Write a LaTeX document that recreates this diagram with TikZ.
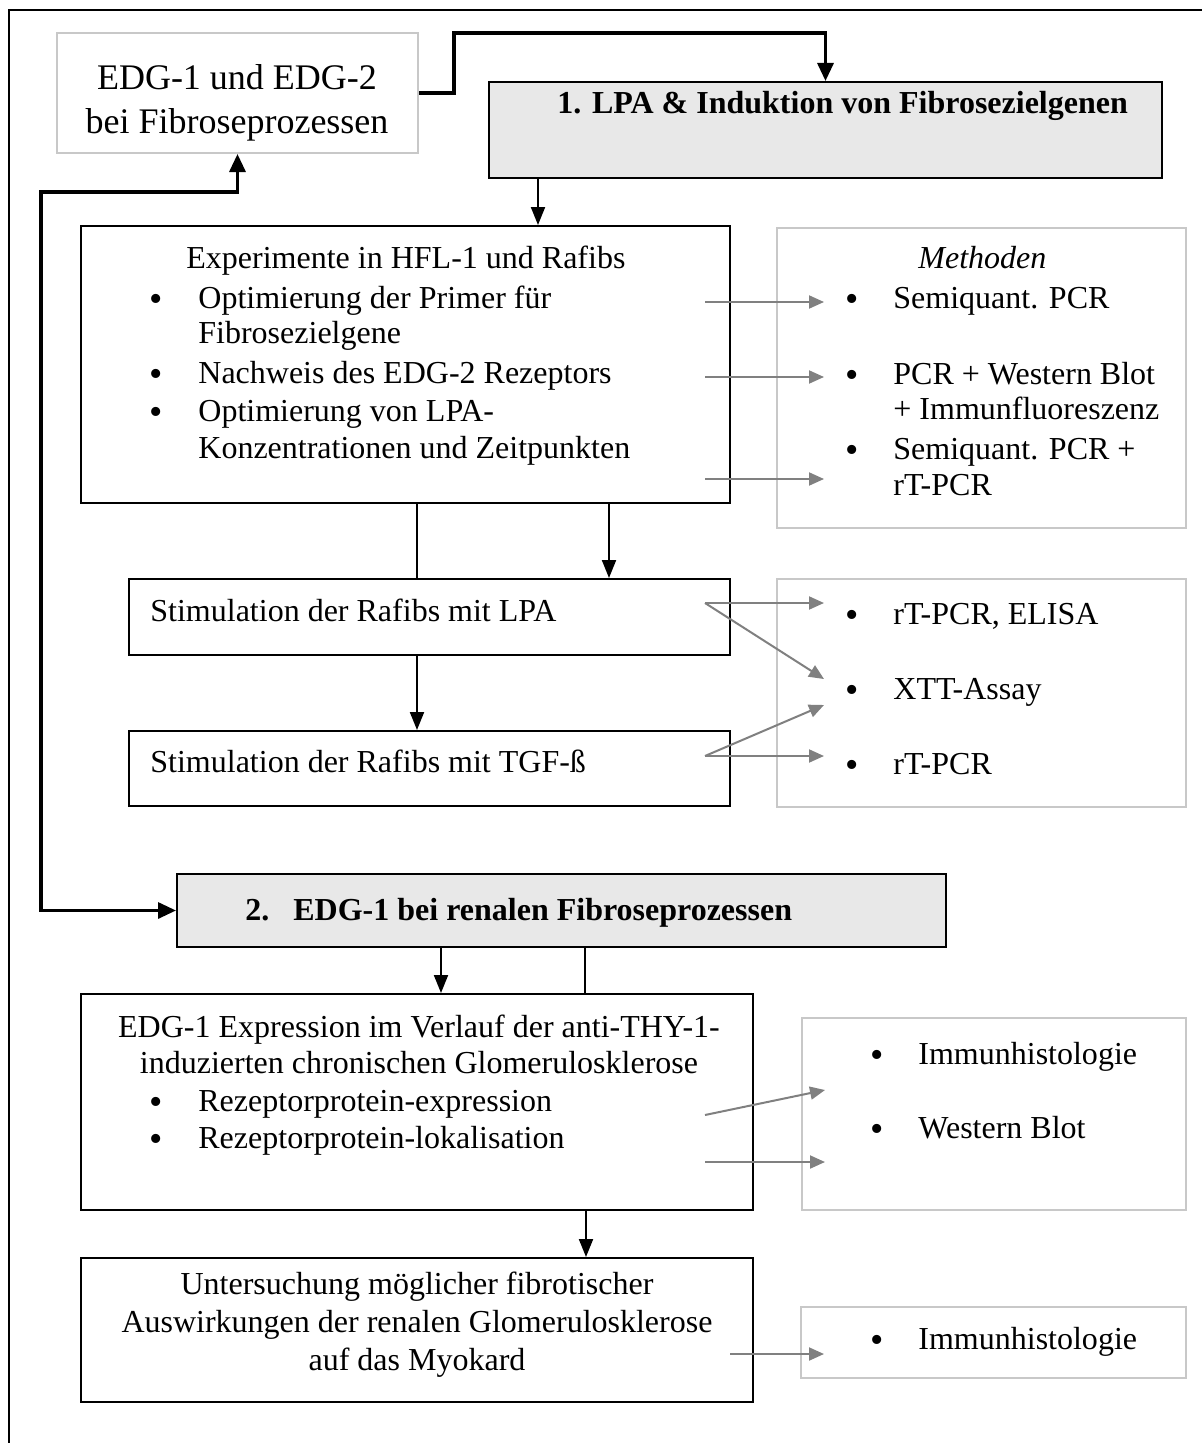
\documentclass[tikz,border=0pt]{standalone}
\usepackage{fontspec}
\setmainfont{Liberation Serif}
\usetikzlibrary{arrows.meta,fit}
\definecolor{gline}{RGB}{128,128,128}
\definecolor{gbox}{RGB}{200,200,200}
\definecolor{hfill}{RGB}{232,232,232}
\begin{document}
\begin{tikzpicture}[x=0.5bp,y=-0.5bp,
  blackbox/.style={draw=black,line width=1bp,inner sep=0pt},
  graybox/.style={draw=gbox,line width=1bp,inner sep=0pt},
  headbox/.style={draw=black,fill=hfill,line width=1bp,inner sep=0pt},
  txt/.style={font=\fontsize{16bp}{18.4bp}\selectfont,anchor=base west,inner sep=0pt},
  ctxt/.style={font=\fontsize{16bp}{18.4bp}\selectfont,anchor=base,inner sep=0pt},
  bigtxt/.style={font=\fontsize{18bp}{21bp}\selectfont,anchor=base,inner sep=0pt},
  headtxt/.style={font=\fontsize{16bp}{18.4bp}\selectfont\bfseries,anchor=base west,inner sep=0pt},
  bul/.style={font=\fontsize{19bp}{20bp}\selectfont,anchor=base,inner sep=0pt,yshift=-1.5bp},
  blk/.style={draw=black,line width=1bp,-{Triangle[length=9bp,width=7bp]}},
  blkline/.style={draw=black,line width=1bp},
  thk/.style={draw=black,line width=1.6bp,{Triangle[length=9bp,width=8bp]}-{Triangle[length=9bp,width=8bp]}},
  thkone/.style={draw=black,line width=1.6bp,-{Triangle[length=9bp,width=8bp]}},
  gry/.style={draw=gline,line width=1bp,-{Triangle[length=7.5bp,width=6.5bp]}}
]
\useasboundingbox (0,0) rectangle (1202,1443);
% outer frame
\draw[line width=1bp] (9,1443) -- (9,10) -- (1202,10);

% ---- boxes ----
\node[graybox,fit={(57,33)(418,153)}] (A) {};
\node[headbox,fit={(489,82)(1162,178)}] (H1) {};
\node[blackbox,fit={(81,226)(730,503)}] (B) {};
\node[graybox,fit={(777,228)(1186,528)}] (M1) {};
\node[blackbox,fit={(129,579)(730,655)}] (SL) {};
\node[blackbox,fit={(129,731)(730,806)}] (ST) {};
\node[graybox,fit={(777,579)(1186,807)}] (M2) {};
\node[headbox,fit={(177,874)(946,947)}] (H2) {};
\node[blackbox,fit={(81,994)(753,1210)}] (C) {};
\node[graybox,fit={(802,1018)(1186,1210)}] (M3) {};
\node[blackbox,fit={(81,1258)(753,1402)}] (D) {};
\node[graybox,fit={(801,1307)(1186,1378)}] (M4) {};

% ---- texts ----
\node[bigtxt] (a1) at (237,90) {EDG-1 und EDG-2};
\node[bigtxt] (a2) at (237,134) {bei Fibroseprozessen};
\node[headtxt] (h1) at (557,114) {1. LPA \& Induktion von Fibrosezielgenen};

\node[txt] (b0) at (186,268) {Experimente in HFL-1 und Rafibs};
\node[bul] (bb1) at (156,308) {•};
\node[txt] (b1) at (198,308) {Optimierung der Primer für};
\node[txt] (b1b) at (198,343) {Fibrosezielgene};
\node[bul] (bb2) at (156,383) {•};
\node[txt] (b2) at (198,383) {Nachweis des EDG-2 Rezeptors};
\node[bul] (bb3) at (156,421) {•};
\node[txt] (b3) at (198,421) {Optimierung von LPA-};
\node[txt] (b3b) at (198,458) {Konzentrationen und Zeitpunkten};

\node[txt,font=\fontsize{16bp}{18.4bp}\selectfont\itshape] (m0) at (918,268) {Methoden};
\node[bul] (mb1) at (852,308) {•};
\node[txt] (m1) at (893,308) {Semiquant. PCR};
\node[bul] (mb2) at (852,384) {•};
\node[txt] (m2) at (893,384) {PCR + Western Blot};
\node[txt] (m2b) at (893,419) {+ Immunfluoreszenz};
\node[bul] (mb3) at (852,459) {•};
\node[txt] (m3) at (893,459) {Semiquant. PCR +};
\node[txt] (m3b) at (893,495) {rT-PCR};

\node[txt] (sl) at (150,621) {Stimulation der Rafibs mit LPA};
\node[txt] (st) at (150,772) {Stimulation der Rafibs mit TGF-ß};

\node[bul] (nb1) at (852,624) {•};
\node[txt] (n1) at (893,624) {rT-PCR, ELISA};
\node[bul] (nb2) at (852,699) {•};
\node[txt] (n2) at (893,699) {XTT-Assay};
\node[bul] (nb3) at (852,774) {•};
\node[txt] (n3) at (893,774) {rT-PCR};

\node[headtxt] (h2n) at (245,920) {2.};
\node[headtxt] (h2) at (293,920) {EDG-1 bei renalen Fibroseprozessen};

\node[ctxt] (c1) at (419,1037) {EDG-1 Expression im Verlauf der anti-THY-1-};
\node[ctxt] (c2) at (419,1073) {induzierten chronischen Glomerulosklerose};
\node[bul] (cb1) at (156,1111) {•};
\node[txt] (c3) at (198,1111) {Rezeptorprotein-expression};
\node[bul] (cb2) at (156,1148) {•};
\node[txt] (c4) at (198,1148) {Rezeptorprotein-lokalisation};

\node[bul] (kb1) at (877,1064) {•};
\node[txt] (k1) at (918,1064) {Immunhistologie};
\node[bul] (kb2) at (877,1138) {•};
\node[txt] (k2) at (918,1138) {Western Blot};

\node[ctxt] (d1) at (417,1294) {Untersuchung möglicher fibrotischer};
\node[ctxt] (d2) at (417,1332) {Auswirkungen der renalen Glomerulosklerose};
\node[ctxt] (d3) at (417,1370) {auf das Myokard};

\node[bul] (lb1) at (877,1349) {•};
\node[txt] (l1) at (918,1349) {Immunhistologie};

% ---- helper coordinates ----
\coordinate (cA) at (454,33);
\coordinate (cL) at (41,192);
\coordinate (x538) at (538,0);
\coordinate (x417) at (417,0);
\coordinate (x609) at (609,0);
\coordinate (x441) at (441,0);
\coordinate (x585) at (585,0);
\coordinate (x586) at (586,0);

% ---- black connectors ----
\draw[thkone] (A.east) -| (cA) -| (H1.north);
\draw[thk] (A.south) |- (cL) |- (H2.west);
\draw[blk] (x538 |- H1.south) -- (x538 |- B.north);
\draw[blkline] (x417 |- B.south) -- (x417 |- SL.north);
\draw[blk] (x609 |- B.south) -- (x609 |- SL.north);
\draw[blk] (x417 |- SL.south) -- (x417 |- ST.north);
\draw[blk] (x441 |- H2.south) -- (x441 |- C.north);
\draw[blkline] (x585 |- H2.south) -- (x585 |- C.north);
\draw[blk] (x586 |- C.south) -- (x586 |- D.north);

% ---- gray arrows ----
\coordinate (g1s) at (705,302); \coordinate (g1e) at (824,302);
\coordinate (g2s) at (705,377); \coordinate (g2e) at (824,377);
\coordinate (g3s) at (705,479); \coordinate (g3e) at (824,479);
\coordinate (g4s) at (705,603); \coordinate (g4e) at (824,603);
\coordinate (g5e) at (824,679);
\coordinate (g6s) at (705,756); \coordinate (g6e) at (824,756);
\coordinate (g7e) at (824,705);
\coordinate (g8s) at (705,1115); \coordinate (g8e) at (825,1090);
\coordinate (g9s) at (705,1162); \coordinate (g9e) at (825,1162);
\coordinate (g10s) at (730,1354); \coordinate (g10e) at (824,1354);
\draw[gry] (g1s) -- (g1e);
\draw[gry] (g2s) -- (g2e);
\draw[gry] (g3s) -- (g3e);
\draw[gry] (g4s) -- (g4e);
\draw[gry] (g4s) -- (g5e);
\draw[gry] (g6s) -- (g6e);
\draw[gry] (g6s) -- (g7e);
\draw[gry] (g8s) -- (g8e);
\draw[gry] (g9s) -- (g9e);
\draw[gry] (g10s) -- (g10e);
\end{tikzpicture}
\end{document}
